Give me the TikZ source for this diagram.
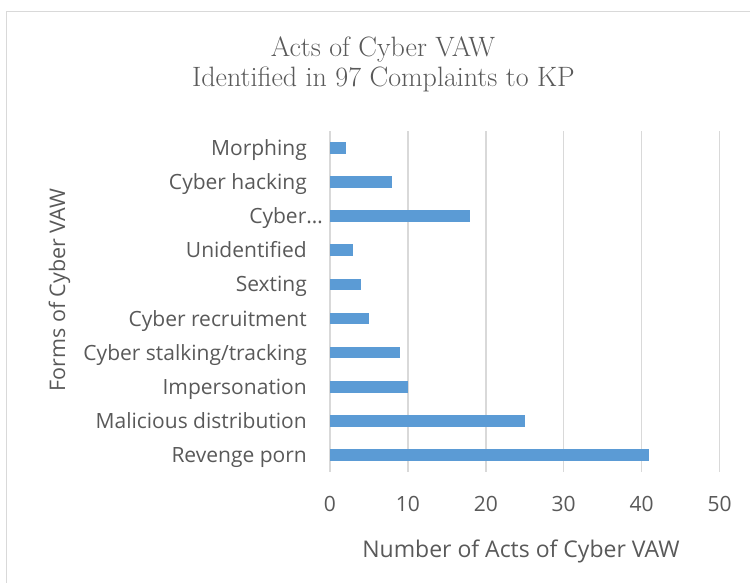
\documentclass[tikz,border=0pt]{standalone}
\usepackage{fontspec}
\newfontfamily\osans{Open Sans}
\definecolor{txt}{HTML}{595959}
\definecolor{barc}{HTML}{5B9BD5}
\definecolor{gridc}{HTML}{D9D9D9}
\tikzset{
  frameline/.style={draw=gridc, line width=1.5pt},
  gridline/.style={draw=gridc, line width=1.5pt},
  barbox/.style={fill=barc, draw=none},
  catlabel/.style={font=\osans\fontsize{21}{24}\selectfont, text=txt, inner sep=0pt, anchor=base east},
  ticklabel/.style={font=\osans\fontsize{21}{24}\selectfont, text=txt, inner sep=0pt, anchor=base},
  axtitle/.style={font=\osans\fontsize{23}{26}\selectfont, text=txt, inner sep=0pt, anchor=base},
  charttitle/.style={font=\rmfamily\fontsize{28}{32}\selectfont, text=txt, inner sep=0pt, anchor=base}
}
\begin{document}
\begin{tikzpicture}[x=1pt,y=-1pt]
\useasboundingbox (0,0) rectangle (750,582);
% frame
\coordinate (fb) at (6.5,600);
\coordinate (fc) at (6.5,11.5);
\coordinate (fr) at (760,11.5);
\draw[frameline] (fb) -- (fc) -- (fr);
% title
\node[charttitle] (t1) at (383,56) {Acts of Cyber VAW};
\node[charttitle] (t2) at (383.5,86) {Identified in 97 Complaints to KP};
% grid
\foreach \v in {0,...,5}{
  \coordinate (gt\v) at (330+77.9*\v,131);
  \coordinate (gb\v) at (330+77.9*\v,472);
  \draw[gridline] (gt\v) -- (gb\v);
  \node[ticklabel] (tk\v) at (330+77.9*\v,511.5) {\number\numexpr\v*10\relax};
}
% bars
\foreach \lab/\val [count=\i from 0] in {Morphing/2, Cyber hacking/8, Cyber…/18, Unidentified/3, Sexting/4, Cyber recruitment/5, Cyber stalking\slash tracking/9, Impersonation/10, Malicious distribution/25, Revenge porn/41}{
  \pgfmathsetmacro{\c}{148+34.1*\i}
  \path[barbox] (330,\c-5.85) rectangle (330+7.79*\val,\c+5.85);
  \ifnum\i=2
    \node[catlabel] (lab\i) at (323,\c+7.5) {\lab};
  \else
    \node[catlabel] (lab\i) at (307,\c+7.5) {\lab};
  \fi
}
% axis titles
\node[axtitle] (xt) at (521,557) {Number of Acts of Cyber VAW};
\node[axtitle, font=\osans\fontsize{21.5}{24}\selectfont, rotate=90] (yt) at (65,290) {Forms of Cyber VAW};
\end{tikzpicture}
\end{document}
